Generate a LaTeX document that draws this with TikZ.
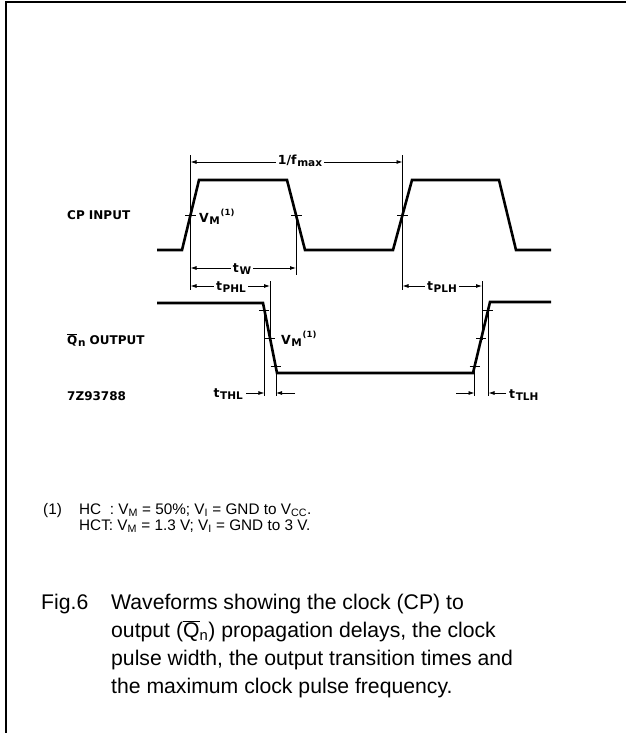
\documentclass[tikz,border=0pt]{standalone}
\usepackage{fontspec}
\setmainfont{Liberation Sans}
\newfontfamily\lblfont{DejaVu Sans}
\usetikzlibrary{arrows.meta}
\newcommand\sbs[1]{\textsubscript{#1}}
\newcommand\lsub[1]{\kern0.6pt\raisebox{-0.35ex}{\fontsize{10.5}{10}\selectfont #1}}
\newcommand\lsup[1]{\kern0.8pt\raisebox{0.9ex}{\fontsize{8.5}{9}\selectfont #1}}
\begin{document}
\begin{tikzpicture}[x=1pt,y=-1pt,
  wave/.style={line width=2.6pt,line join=miter},
  dim/.style={line width=0.8pt},
  tickmark/.style={line width=0.8pt},
  arr/.style={line width=0.8pt,-{Latex[length=6pt,width=4pt]}},
  lbl/.style={font=\lblfont\fontsize{12}{12}\selectfont\bfseries,inner sep=0pt},
  tlbl/.style={font=\lblfont\fontsize{12.5}{12}\selectfont\bfseries,inner sep=2pt,fill=white},
  foot/.style={font=\fontsize{15.3}{16}\selectfont,anchor=base west,inner sep=0pt},
  captxt/.style={font=\fontsize{21.2}{28}\selectfont,anchor=base west,inner sep=0pt}]
\useasboundingbox (0,0) rectangle (626,733);
% frame
\draw[line width=2pt] (5.5,733) -- (5.5,2.5) -- (626,2.5);
% CP waveform
\draw[wave] (157,250) -- (182,250) -- (199,180) -- (287,180) -- (305,250) -- (393,250) -- (412,180) -- (499,180) -- (516,250) -- (551,250);
% Qn waveform
\draw[wave] (157,303) -- (263,303) -- (277,373) -- (473,373) -- (490,302) -- (551,302);
% CP ticks
\draw[tickmark] (185,215) -- (196,215);
\draw[tickmark] (291,215) -- (302,215);
\draw[tickmark] (397,215) -- (408,215);
% Q ticks
\foreach \y in {310,338,366}{
  \pgfmathsetmacro\xa{263+14*(\y-303)/70}
  \draw[tickmark] (\xa-5,\y) -- (\xa+5,\y);
  \pgfmathsetmacro\xb{473+17*(373-\y)/71}
  \draw[tickmark] (\xb-5,\y) -- (\xb+5,\y);
}
% coordinates for dimension lines
\coordinate (c1t) at (190.5,155);
\coordinate (c1b) at (190.5,290);
\coordinate (c2t) at (402.5,155);
\coordinate (c2b) at (402.5,290);
\coordinate (fw) at (296,215);
\coordinate (fwb) at (296,275);
\draw[dim] (c1t) -- (c1b);
\draw[dim] (c2t) -- (c2b);
\draw[dim] (fw) -- (fwb);
% 1/fmax
\coordinate (fa) at (190.5,162);
\coordinate (fb) at (402.5,162);
\draw[arr] (300,162) -- (fa);
\draw[arr] (300,162) -- (fb);
\node[tlbl] (fmax) at (300,161) {1/f\lsub{max}};
% tW
\coordinate (wa) at (190.5,268);
\coordinate (wb) at (296,268);
\draw[arr] (242,268) -- (wa);
\draw[arr] (242,268) -- (wb);
\node[tlbl] (tw) at (242,269) {t\lsub{W}};
% tPHL
\coordinate (pa) at (190.5,286);
\coordinate (pb) at (270,286);
\coordinate (pbt) at (270,281);
\coordinate (pbb) at (270,340);
\draw[dim] (pbt) -- (pbb);
\draw[arr] (231,286) -- (pa);
\draw[arr] (231,286) -- (pb);
\node[tlbl] (tphl) at (231,287) {t\lsub{PHL}};
% tPLH
\coordinate (qa) at (402.5,286);
\coordinate (qb) at (482,286);
\coordinate (qbt) at (482,281);
\coordinate (qbb) at (482,340);
\draw[dim] (qbt) -- (qbb);
\draw[arr] (442,286) -- (qa);
\draw[arr] (442,286) -- (qb);
\node[tlbl] (tplh) at (442,287) {t\lsub{PLH}};
% tTHL
\coordinate (h1t) at (264.4,305);
\coordinate (h1b) at (264.4,396);
\coordinate (h2t) at (276,366);
\coordinate (h2b) at (276,396);
\draw[dim] (h1t) -- (h1b);
\draw[dim] (h2t) -- (h2b);
\coordinate (h1a) at (264.4,393);
\coordinate (h2a) at (276,393);
\draw[arr] (246,393) -- (h1a);
\draw[arr] (295,393) -- (h2a);
\node[tlbl,anchor=east,fill=none] (tthl) at (245,394) {t\lsub{THL}};
% tTLH
\coordinate (l1t) at (474.5,366);
\coordinate (l1b) at (474.5,396);
\coordinate (l2t) at (488.5,305);
\coordinate (l2b) at (488.5,396);
\draw[dim] (l1t) -- (l1b);
\draw[dim] (l2t) -- (l2b);
\coordinate (l1a) at (474.5,393);
\coordinate (l2a) at (488.5,393);
\draw[arr] (456,393) -- (l1a);
\draw[arr] (506,393) -- (l2a);
\node[tlbl,anchor=west,fill=none] (ttlh) at (507,395) {t\lsub{TLH}};
% VM labels
\node[tlbl,anchor=west,fill=none,inner sep=0pt] (vm1) at (199,217) {V\lsub{M}\lsup{(1)}};
\node[tlbl,anchor=west,fill=none,inner sep=0pt] (vm2) at (281,339) {V\lsub{M}\lsup{(1)}};
% signal labels
\node[lbl,anchor=west] (cpin) at (67,215) {CP INPUT};
\node[lbl,anchor=west] (qout) at (67,340) {$\overline{\mbox{Q}}$\lsub{n} OUTPUT};
\node[lbl,anchor=west] (code) at (67,396) {7Z93788};
% footnote
\node[foot] (f1) at (43,514) {(1)};
\node[foot] (f2) at (79,514) {HC\ \ : V\sbs{M} = 50\%; V\sbs{I} = GND to V\sbs{CC}.};
\node[foot] (f3) at (79,530) {HCT: V\sbs{M} = 1.3 V; V\sbs{I} = GND to 3 V.};
% caption
\node[captxt] (fig) at (41,609) {Fig.6};
\node[captxt] (c1) at (111,609) {Waveforms showing the clock (CP) to};
\node[captxt] (c2) at (111,637) {output ($\overline{\mbox{Q}}$\sbs{n}) propagation delays, the clock};
\node[captxt] (c3) at (111,665) {pulse width, the output transition times and};
\node[captxt] (c4) at (111,693) {the maximum clock pulse frequency.};
\end{tikzpicture}
\end{document}
